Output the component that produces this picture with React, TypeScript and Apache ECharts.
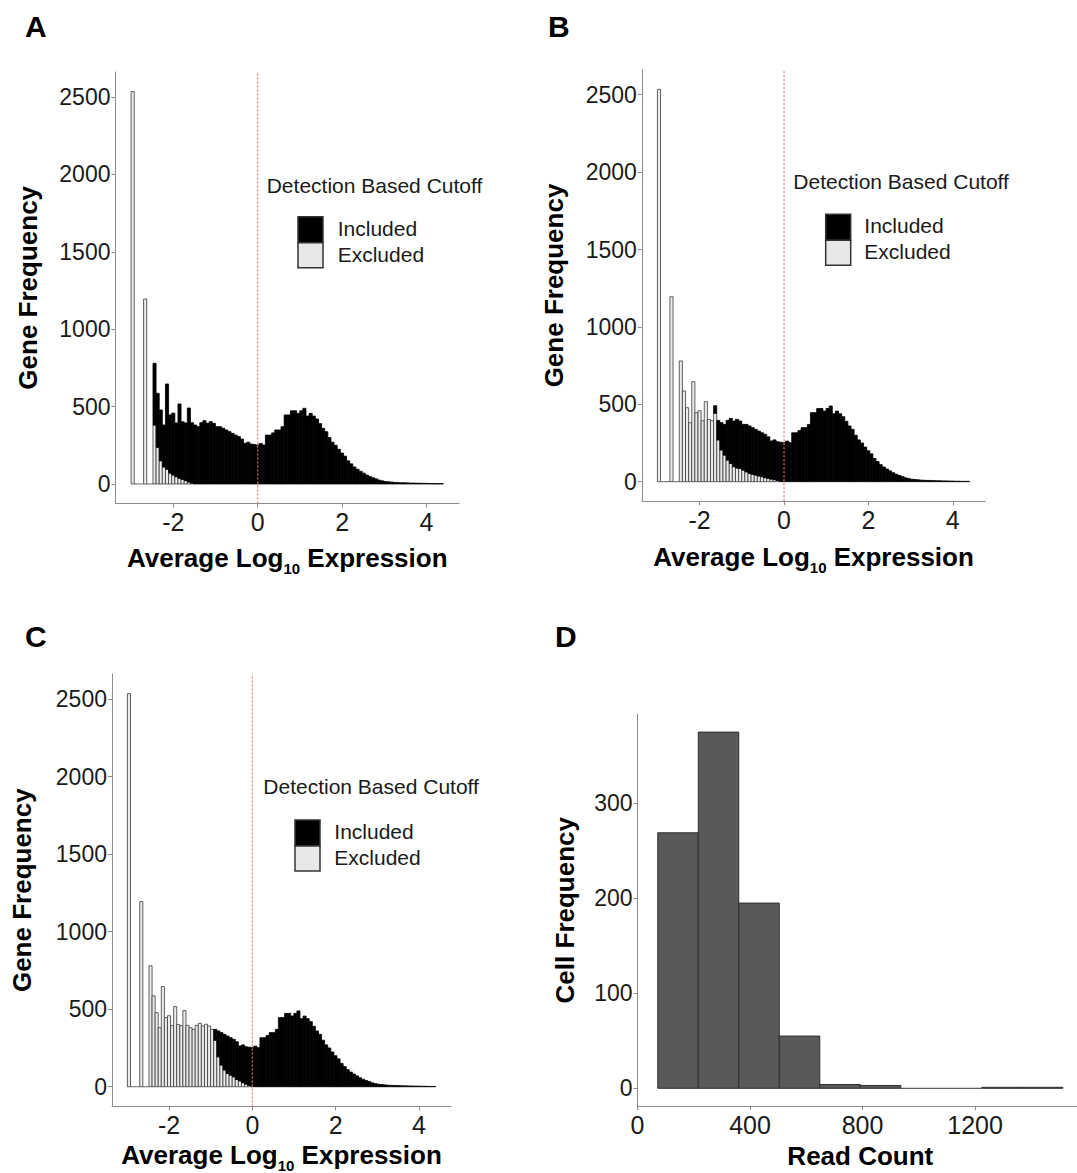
import React, { useEffect, useRef } from 'react';
import * as echarts from 'echarts';

// ---------- data ----------
const BIN_START = -3.0;
const BIN_WIDTH = 0.074;
// total gene counts per bin (same distribution in A, B, C)
const totalCounts = [
  2535, 0, 0, 0, 1195, 0, 0, 780, 586, 478,
  381, 646, 446, 458, 394, 517, 402, 394, 491, 396,
  381, 370, 396, 409, 392, 403, 392, 370, 370, 360,
  349, 338, 327, 316, 306, 290, 263, 270, 258, 255,
  252, 262, 252, 316, 316, 330, 349, 349, 370, 446,
  446, 473, 473, 456, 473, 489, 439, 456, 439, 420,
  390, 360, 338, 300, 270, 250, 224, 200, 180, 150,
  130, 110, 95, 82, 70, 58, 48, 40, 33, 25,
  20, 16, 14, 12, 10, 9, 8, 8, 7, 6,
  6, 5, 5, 4, 4, 3, 3, 2, 2, 2,
];
// excluded gene counts per bin (bins beyond the list are 0)
const excludedA = [
  2535, 0, 0, 0, 1195, 0, 0, 381, 237, 150,
  110, 95, 70, 58, 47, 37, 30, 22, 13, 6,
];
const excludedB = [
  2535, 0, 0, 0, 1195, 0, 0, 780, 586, 478,
  381, 646, 446, 458, 394, 517, 402, 394, 442, 270,
  205, 172, 140, 118, 97, 88, 86, 75, 64, 54,
  47, 43, 37, 32, 26, 22, 17, 13, 8, 3,
];
const excludedC = [
  2535, 0, 0, 0, 1195, 0, 0, 780, 586, 478,
  381, 646, 446, 458, 394, 517, 402, 394, 491, 396,
  381, 370, 396, 409, 392, 403, 392, 370, 300, 193,
  140, 108, 86, 75, 64, 47, 38, 26, 17, 9,
  3,
];
const geneXTicks = [-2, 0, 2, 4];
const geneYTicks = [0, 500, 1000, 1500, 2000, 2500];
const CUTOFF = 0;

const readBinStarts = [72, 216, 360, 504, 648, 792, 936, 1080, 1224, 1368];
const READ_BIN_WIDTH = 144;
const cellCounts = [269, 375, 195, 55, 4, 3, 0, 0, 1, 1];
const readXTicks = [0, 400, 800, 1200];
const cellYTicks = [0, 100, 200, 300];

const legendTitle = 'Detection Based Cutoff';
const legendLabels = ['Included', 'Excluded'];

// ---------- style ----------
const FONT = "'Liberation Sans', Arial, Helvetica, sans-serif";
const EX_FILL = '#ebebeb';
const EX_STROKE = '#3a3a3a';
const AXIS_COLOR = '#8c8c8c';
const LABEL_COLOR = '#1a1a1a';
const GX = [-3.37, 4.77];
const GY = [-126.75, 2661.75];
const RX = [0, 1584];
const RY = [-18.75, 393.75];

const plain = (v: number) => String(v);

const renderGene = (params: any, api: any) => {
  const c = api.value(0);
  const e = api.value(1);
  const t = api.value(2);
  const l = c - BIN_WIDTH / 2;
  const r = c + BIN_WIDTH / 2;
  const base = api.coord([l, 0]);
  const right = api.coord([r, 0])[0];
  const w = right - base[0];
  const yE = api.coord([l, e])[1];
  const yT = api.coord([l, t])[1];
  const children: any[] = [];
  if (t <= 0) {
    children.push({ type: 'line', shape: { x1: base[0], y1: base[1], x2: right, y2: base[1] }, style: { stroke: EX_STROKE, lineWidth: 0.8 } });
  }
  if (e > 0) {
    children.push({ type: 'rect', shape: { x: base[0], y: yE, width: w, height: base[1] - yE }, style: { fill: EX_FILL, stroke: EX_STROKE, lineWidth: 0.8 } });
  }
  if (t > e) {
    children.push({ type: 'rect', shape: { x: base[0], y: yT, width: w, height: yE - yT }, style: { fill: '#000', stroke: '#000', lineWidth: 0.8 } });
  }
  return { type: 'group', children };
};

const renderRead = (params: any, api: any) => {
  const s = api.value(0);
  const e = api.value(1);
  const n = api.value(2);
  const p0 = api.coord([s, 0]);
  const p1 = api.coord([e, n]);
  if (n <= 0) {
    return { type: 'line', shape: { x1: p0[0], y1: p0[1], x2: p1[0], y2: p0[1] }, style: { stroke: '#333', lineWidth: 1 } };
  }
  return { type: 'rect', shape: { x: p0[0], y: p1[1], width: p1[0] - p0[0], height: p0[1] - p1[1] }, style: { fill: '#595959', stroke: '#2e2e2e', lineWidth: 1 } };
};

function xAxisDef(gridIndex: number, range: number[], ticks: number[], name: string, nameGap: number, rich: boolean) {
  return {
    type: 'value', gridIndex, min: range[0], max: range[1],
    axisLine: { show: true, onZero: false, lineStyle: { color: AXIS_COLOR, width: 1 } },
    axisTick: { show: true, length: 4, customValues: ticks, lineStyle: { color: AXIS_COLOR } },
    axisLabel: { customValues: ticks, formatter: plain, color: LABEL_COLOR, fontSize: 25, fontFamily: FONT, margin: 6 },
    splitLine: { show: false },
    name, nameLocation: 'middle', nameGap,
    nameTextStyle: rich
      ? {
          rich: {
            m: { fontSize: 26, fontWeight: 'bold', fontFamily: FONT, color: '#000', lineHeight: 36 },
            s: { fontSize: 15, fontWeight: 'bold', fontFamily: FONT, color: '#000', verticalAlign: 'bottom' },
          },
        }
      : { fontSize: 26, fontWeight: 'bold', fontFamily: FONT, color: '#000', lineHeight: 36 },
  };
}

function yAxisDef(gridIndex: number, range: number[], ticks: number[], name: string, nameGap: number) {
  return {
    type: 'value', gridIndex, min: range[0], max: range[1],
    axisLine: { show: true, onZero: false, lineStyle: { color: AXIS_COLOR, width: 1 } },
    axisTick: { show: true, length: 4, customValues: ticks, lineStyle: { color: AXIS_COLOR } },
    axisLabel: { customValues: ticks, formatter: plain, color: LABEL_COLOR, fontSize: 23, fontFamily: FONT, margin: 5 },
    splitLine: { show: false },
    name, nameLocation: 'middle', nameGap,
    nameTextStyle: { fontSize: 26, fontWeight: 'bold', fontFamily: FONT, color: '#000' },
  };
}

function legendGraphics(tx: number, ty: number, bx: number, by: number, lx: number) {
  return [
    { type: 'text', left: tx, top: ty - 12, style: { text: legendTitle, fontSize: 21, fontFamily: FONT, fill: '#1a1a1a' } },
    { type: 'rect', shape: { x: bx, y: by, width: 25, height: 26 }, style: { fill: '#000', stroke: '#333', lineWidth: 1.5 } },
    { type: 'rect', shape: { x: bx, y: by + 26, width: 25, height: 25 }, style: { fill: '#e8e8e8', stroke: '#333', lineWidth: 1.5 } },
    { type: 'text', left: lx, top: by + 13 - 12, style: { text: legendLabels[0], fontSize: 21, fontFamily: FONT, fill: '#1a1a1a' } },
    { type: 'text', left: lx, top: by + 39 - 12, style: { text: legendLabels[1], fontSize: 21, fontFamily: FONT, fill: '#1a1a1a' } },
  ];
}

function letter(t: string, x: number, y: number) {
  return { type: 'text', left: x, top: y - 16, style: { text: t, fontSize: 30, fontWeight: 'bold', fontFamily: FONT, fill: '#000' } };
}

const XNAME = '{m|Average Log}{s|10}{m| Expression}';

export default function App() {
  const ref = useRef<HTMLDivElement>(null);
  useEffect(() => {
    if (!ref.current) return;
    const chart = echarts.init(ref.current, null, { renderer: 'svg' });
    const geneSeries = (idx: number, excl: number[]) => [
      {
        type: 'custom', xAxisIndex: idx, yAxisIndex: idx, silent: true,
        renderItem: renderGene,
        data: totalCounts.map((t, i) => [BIN_START + BIN_WIDTH * (i + 0.5), excl[i] || 0, t]),
        encode: { x: 0, y: 2 },
        z: 2,
      },
      {
        type: 'line', xAxisIndex: idx, yAxisIndex: idx, silent: true, symbol: 'none',
        data: [[CUTOFF, GY[0]], [CUTOFF, GY[1]]],
        lineStyle: { color: '#f26d6d', width: 1.2, type: [2, 2] },
        z: 3,
      },
    ];
    const option: any = {
      animation: false,
      backgroundColor: '#fff',
      textStyle: { fontFamily: FONT },
      grid: [
        { left: 115.5, top: 72, width: 343.5, height: 431.6, containLabel: false, outerBoundsMode: 'none' },
        { left: 641.8, top: 69.7, width: 343.5, height: 431.6, containLabel: false, outerBoundsMode: 'none' },
        { left: 112, top: 674, width: 339, height: 432.4, containLabel: false, outerBoundsMode: 'none' },
        { left: 637.5, top: 714.3, width: 445.6, height: 391.8, containLabel: false, outerBoundsMode: 'none' },
      ],
      xAxis: [
        xAxisDef(0, GX, geneXTicks, XNAME, 36, true),
        xAxisDef(1, GX, geneXTicks, XNAME, 38, true),
        xAxisDef(2, GX, geneXTicks, XNAME, 31, true),
        xAxisDef(3, RX, readXTicks, 'Read Count', 32, false),
      ],
      yAxis: [
        yAxisDef(0, GY, geneYTicks, 'Gene Frequency', 75),
        yAxisDef(1, GY, geneYTicks, 'Gene Frequency', 75),
        yAxisDef(2, GY, geneYTicks, 'Gene Frequency', 77),
        yAxisDef(3, RY, cellYTicks, 'Cell Frequency', 60),
      ],
      series: [
        ...geneSeries(0, excludedA),
        ...geneSeries(1, excludedB),
        ...geneSeries(2, excludedC),
        {
          type: 'custom', xAxisIndex: 3, yAxisIndex: 3, silent: true,
          renderItem: renderRead,
          data: readBinStarts.map((s, i) => [s, s + READ_BIN_WIDTH, cellCounts[i]]),
          encode: { x: [0, 1], y: 2 },
        },
      ],
      graphic: [
        letter('A', 25, 27),
        letter('B', 548, 27),
        letter('C', 25, 637),
        letter('D', 555, 637),
        ...legendGraphics(266.7, 186.7, 298, 216.7, 337.7),
        ...legendGraphics(793.3, 183.3, 825.7, 214.3, 864.3),
        ...legendGraphics(263.3, 788.3, 295, 820, 334.3),
      ],
    };
    chart.setOption(option);
    return () => chart.dispose();
  }, []);
  return <div ref={ref} style={{ position: 'absolute', left: 0, top: 0, width: 1077, height: 1173, background: '#fff' }} />;
}
